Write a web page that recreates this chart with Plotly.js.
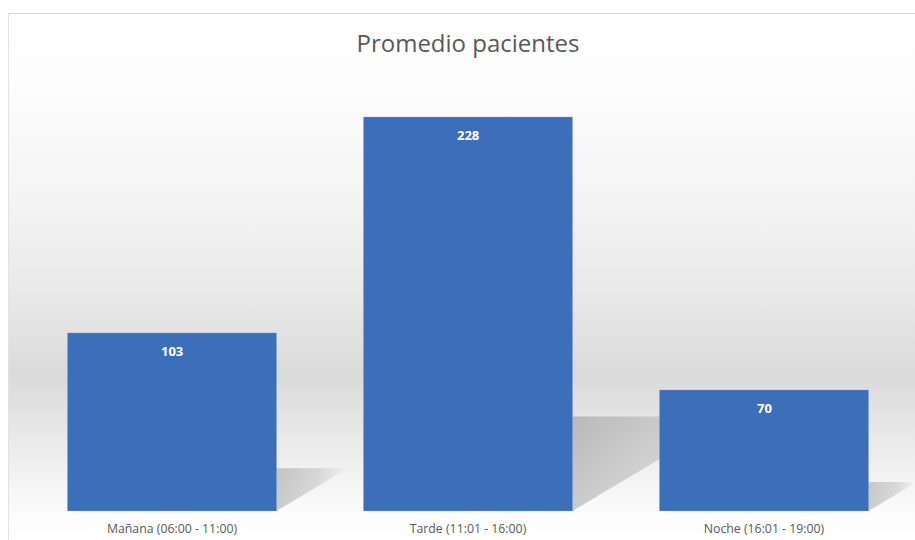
<!DOCTYPE html>
<html>
<head>
<meta charset="utf-8">
<script src="https://cdn.plot.ly/plotly-3.0.1.min.js"></script>
<style>
  html, body { margin: 0; padding: 0; background: #ffffff; }
  #wrap { position: relative; width: 915px; height: 540px; overflow: hidden; }
  #bg {
    position: absolute; left: 8px; top: 13px; width: 907px; height: 527px;
    border-top: 1px solid #d6d6d6; border-left: 1px solid #e2e2e2;
    background: linear-gradient(to bottom,
      #ffffff 0%, #fcfcfc 16%, #f4f4f4 35%, #e8e8e8 54%, #dadada 68.5%,
      #e6e6e6 78%, #f3f3f3 88%, #fcfcfc 95%, #ffffff 100%);
  }
  #chart { position: absolute; left: 0; top: 0; width: 915px; height: 540px; }
</style>
</head>
<body>
<div id="wrap">
  <div id="bg"></div>
  <div id="chart"></div>
</div>
<script>
const categories = ["Mañana (06:00 - 11:00)", "Tarde (11:01 - 16:00)", "Noche (16:01 - 19:00)"];
const values = [103, 228, 70];
const chartTitle = "Promedio pacientes";

const positions = categories.map((c, i) => i);
const barWidth = 0.706;

// perspective shadows, derived from each bar's value (drawn on the base axes, beneath the bars)
const shadowTraces = values.map((v, i) => {
  const x0 = positions[i] - barWidth / 2;
  const x1 = positions[i] + barWidth / 2;
  const dy = v * 0.24;
  const dx = v * 0.00235;
  return {
    type: "scatter",
    mode: "lines",
    xaxis: "x", yaxis: "y",
    x: [x0, x1, x1 + dx, x0 + dx, x0],
    y: [0, 0, dy, dy, 0],
    fill: "toself",
    line: { width: 0, color: "rgba(0,0,0,0)" },
    fillgradient: {
      type: "horizontal",
      start: x1,
      stop: x1 + dx,
      colorscale: [
        [0, "rgba(0,0,0,0.19)"],
        [0.55, "rgba(0,0,0,0.12)"],
        [1, "rgba(0,0,0,0.0)"]
      ]
    },
    hoverinfo: "skip",
    showlegend: false
  };
});

const barTrace = {
  type: "bar",
  xaxis: "x2", yaxis: "y2",
  x: positions,
  y: values,
  width: barWidth,
  marker: { color: "#3d6eb9", line: { color: "rgba(120,160,220,0.6)", width: 0.6 } },
  hoverinfo: "x+y",
  showlegend: false
};

const labelAnnotations = values.map((v, i) => ({
  x: positions[i], y: v, xref: "x2", yref: "y2",
  text: "<b>" + v + "</b>",
  showarrow: false, yshift: -18,
  font: { family: "Open Sans, sans-serif", size: 13, color: "#ffffff" }
}));

const layout = {
  width: 915, height: 540,
  margin: { l: 24, r: 3, t: 79, b: 29, pad: 0 },
  paper_bgcolor: "rgba(0,0,0,0)",
  plot_bgcolor: "rgba(0,0,0,0)",
  title: {
    text: chartTitle,
    x: 0.5, xref: "paper", xanchor: "center",
    y: 1 - 44 / 540, yref: "container", yanchor: "middle",
    font: { family: "Open Sans, sans-serif", size: 24, color: "#595959" }
  },
  xaxis: {
    range: [-0.5, 2.5],
    tickvals: positions,
    ticktext: categories,
    showgrid: false, zeroline: false, showline: false, ticks: "",
    ticklabelstandoff: 9,
    tickfont: { family: "Open Sans, sans-serif", size: 12.3, color: "#595959" },
    fixedrange: true
  },
  yaxis: {
    range: [0, 250],
    visible: false, showgrid: false, zeroline: false, fixedrange: true
  },
  xaxis2: {
    overlaying: "x", matches: "x",
    range: [-0.5, 2.5],
    visible: false, showgrid: false, zeroline: false, fixedrange: true
  },
  yaxis2: {
    overlaying: "y",
    range: [0, 250],
    visible: false, showgrid: false, zeroline: false, fixedrange: true
  },
  annotations: labelAnnotations,
  bargap: 0.294
};

Plotly.newPlot("chart", shadowTraces.concat([barTrace]), layout, { displayModeBar: false, staticPlot: true });
</script>
</body>
</html>
